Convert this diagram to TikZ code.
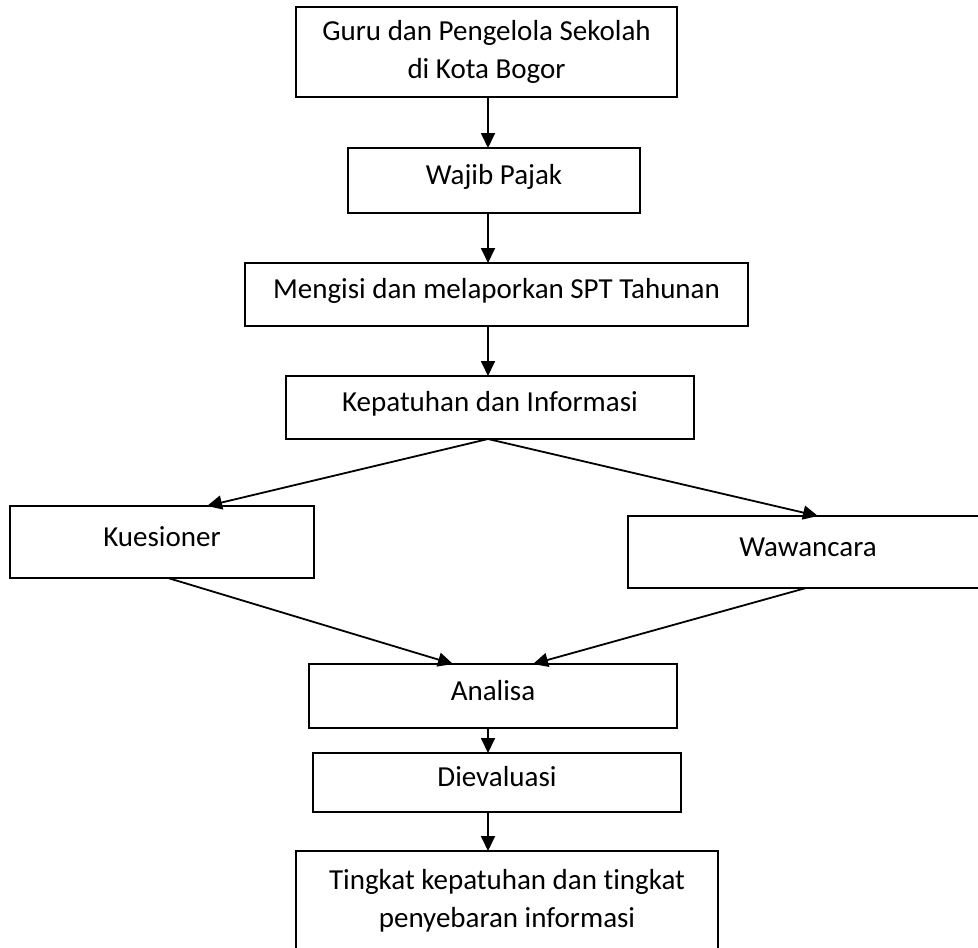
\documentclass[tikz,border=0pt]{standalone}
\usepackage{fontspec}
\setmainfont{Carlito}[Ligatures=NoCommon]
\usepackage{tikz}
\usetikzlibrary{positioning,arrows.meta,calc}

\tikzset{
  box/.style={draw, rectangle, line width=0.9pt, inner sep=0pt, outer sep=0pt, align=center, font=\fontsize{14.5}{19}\selectfont},
  onebox/.style={box, text height=9.5pt, text depth=5.5pt},
  flow/.style={-{Triangle[length=7.5pt,width=7pt]}, line width=0.9pt},
}

\begin{document}
\begin{tikzpicture}[x=1pt, y=1pt]
    \useasboundingbox (0,0) rectangle (489,-473.5);
    \coordinate (axis) at (244,0);

    \node[box, minimum width=190.5pt, minimum height=45pt] (guru) at (243.25,-26) {Guru dan Pengelola Sekolah\\di Kota Bogor};
    \node[onebox, minimum width=146pt, minimum height=32.5pt, below=25.5pt of guru, xshift=3.75pt] (wajib) {Wajib Pajak};
    \node[onebox, minimum width=251.5pt, minimum height=31.5pt, below=25pt of wajib, xshift=1.25pt] (mengisi) {Mengisi dan melaporkan SPT Tahunan};
    \node[onebox, minimum width=204pt, minimum height=31.5pt, below=25pt of mengisi, xshift=-3.25pt] (kepatuhan) {Kepatuhan dan Informasi};
    \node[onebox, minimum width=152pt, minimum height=36pt, below=33.5pt of kepatuhan, xshift=-164pt] (kuesioner) {Kuesioner};
    \node[onebox, minimum width=180pt, minimum height=36pt, below=38.5pt of kepatuhan, xshift=159pt] (wawancara) {Wawancara};
    \node[onebox, minimum width=184pt, minimum height=32pt, below=112.5pt of kepatuhan, xshift=1.5pt] (analisa) {Analisa};
    \node[onebox, minimum width=184pt, minimum height=29.5pt, below=12.5pt of analisa, xshift=2pt] (dievaluasi) {Dievaluasi};
    \node[box, minimum width=211pt, minimum height=49.5pt, below=19.5pt of dievaluasi, xshift=5pt] (tingkat) {Tingkat kepatuhan dan tingkat\\penyebaran informasi};

    \draw[flow] (guru.south -| axis) -- (wajib.north -| axis);
    \draw[flow] (wajib.south -| axis) -- (mengisi.north -| axis);
    \draw[flow] (mengisi.south -| axis) -- (kepatuhan.north -| axis);
    \draw[flow] (kepatuhan.south -| axis) -- ($(kuesioner.north)+(22.5,0)$);
    \draw[flow] (kepatuhan.south -| axis) -- ($(wawancara.north)+(5,0)$);
    \draw[flow] ($(kuesioner.south)+(3,0)$) -- ($(analisa.north)+(-20,0)$);
    \draw[flow] ($(wawancara.south)+(-1,0)$) -- ($(analisa.north)+(20,0)$);
    \draw[flow] (analisa.south -| axis) -- (dievaluasi.north -| axis);
    \draw[flow] (dievaluasi.south -| axis) -- (tingkat.north -| axis);
\end{tikzpicture}
\end{document}
